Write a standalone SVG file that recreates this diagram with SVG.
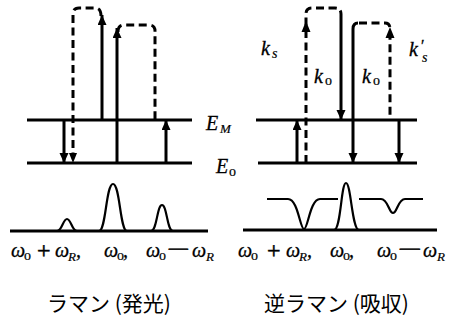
<svg xmlns="http://www.w3.org/2000/svg" width="454" height="323" viewBox="0 0 454 323">
<defs>
<marker id="ah" markerUnits="userSpaceOnUse" markerWidth="10" markerHeight="12" refX="10" refY="4.5" orient="auto">
<path d="M0,0 L10,4.5 L0,9 z" fill="#000"/>
</marker>
<style>
.lv{stroke:#000;stroke-width:2.8;fill:none}
.s{stroke:#000;stroke-width:3;fill:none}
.d{stroke:#000;stroke-width:3;fill:none;stroke-dasharray:8 4.5}
.sp{stroke:#000;stroke-width:2.2;fill:none}
text{fill:#000}
.m{font-family:'Liberation Serif','DejaVu Serif',serif;font-style:italic;font-size:20px;stroke:#000;stroke-width:0.3}
.u{font-family:'Liberation Serif','DejaVu Serif',serif;font-style:normal;font-size:14px;stroke:#000;stroke-width:0.2}
.su{font-family:'Liberation Serif','DejaVu Serif',serif;font-style:italic;font-size:13px;stroke:#000;stroke-width:0.2}
.op{font-family:'Liberation Serif','DejaVu Serif',serif;font-style:normal;font-size:24px;stroke:#000;stroke-width:0.5}
.jp{font-family:'Noto Sans CJK JP','Noto Sans CJK SC',sans-serif;font-size:21px}
</style>
</defs>
<rect width="454" height="323" fill="#fff"/>

<g id="levels">
<line class="lv" x1="27" y1="120" x2="192" y2="120"/>
<line class="lv" x1="27" y1="163" x2="192" y2="163"/>
<line class="lv" x1="256" y1="120" x2="417" y2="120"/>
<line class="lv" x1="258" y1="163" x2="417" y2="163"/>
</g>

<g id="connectors">
<line class="s" x1="102" y1="120" x2="102" y2="15" marker-end="url(#ah)"/>
<path class="d" d="M101,16 Q101,8 95,8 L79,8 Q73,8 73,14 L73,154"/>
<path d="M69,153 L73,163 L77,153 z" fill="#000"/>
<line class="s" x1="117" y1="163" x2="117" y2="28" marker-end="url(#ah)"/>
<path class="d" d="M118,32 Q118,25 124,25 L149,25 Q155,25 155,31 L155,120"/>
<line class="s" x1="166" y1="163" x2="166" y2="120" marker-end="url(#ah)"/>
<line class="s" x1="64" y1="120" x2="64" y2="163" marker-end="url(#ah)"/>
<line class="s" x1="297" y1="163" x2="297" y2="120" marker-end="url(#ah)"/>
<path class="d" d="M306,163 L306,14 Q306,8 312,8 L335,8 Q341,8 341,14"/>
<path d="M301.5,32 L306,21 L310.5,32 z" fill="#000"/>
<line class="s" x1="341" y1="14" x2="341" y2="120" marker-end="url(#ah)"/>
<path class="s" d="M358,23 Q353,23 353,29 L353,163" marker-end="url(#ah)"/>
<path class="d" d="M359,23 L385,23 Q390,23 390,29 L390,120"/>
<path d="M385.5,38 L390,27 L394.5,38 z" fill="#000"/>
<line class="s" x1="399" y1="120" x2="399" y2="163" marker-end="url(#ah)"/>
</g>

<g id="level-labels">
<text class="m" x="206" y="130">E</text><text class="su" x="220" y="133">M</text>
<text class="m" x="216" y="173">E</text><text class="u" x="229" y="176">o</text>
</g>

<g id="k-labels">
<text class="m" x="261" y="55">k</text><text class="su" x="272" y="58" style="font-size:14px">s</text>
<text class="m" x="314" y="83">k</text><text class="u" x="325" y="85">o</text>
<text class="m" x="362" y="83">k</text><text class="u" x="373" y="85">o</text>
<text class="m" x="409" y="56">k</text><text class="m" x="420" y="51" style="font-size:16px">′</text><text class="su" x="422" y="62" style="font-size:14px">s</text>
</g>

<g id="spectrum-left">
<line class="lv" x1="10" y1="231" x2="208" y2="231"/>
<path class="sp" d="M57,231 C62,231 63,219 67,219 C71,219 72,231 77,231"/>
<path class="sp" d="M99,231 C106,231 106,184 113,184 C120,184 120,231 127,231"/>
<path class="sp" d="M151,231 C157,231 157,205 162,205 C167,205 167,231 173,231"/>
</g>

<g id="spectrum-right">
<line class="lv" x1="243" y1="230" x2="437" y2="230"/>
<path class="sp" d="M267,199 L288,199 C298,199 300,229 304,229 C308,229 310,199 320,199 L338,199"/>
<path class="sp" d="M334,230 C341,230 341,183 346,183 C351,183 352,230 359,230"/>
<path class="sp" d="M359,199 L381,199 C388,199 389,213 393,213 C397,213 398,199 405,199 L423,199"/>
</g>

<g id="freq-left">
<text class="m" x="11" y="257">ω</text><text class="u" x="24" y="260">o</text>
<text class="op" x="37" y="258">+</text>
<text class="m" x="55" y="257">ω</text><text class="su" x="68" y="261">R</text><text class="m" x="76" y="257">,</text>
<text class="m" x="104" y="257">ω</text><text class="u" x="117" y="260">o</text><text class="m" x="123" y="257">,</text>
<text class="m" x="146" y="257">ω</text><text class="u" x="159" y="260">o</text>
<text class="op" x="167" y="257" textLength="23" lengthAdjust="spacingAndGlyphs">−</text>
<text class="m" x="192" y="257">ω</text><text class="su" x="206" y="261">R</text>
</g>

<g id="freq-right">
<text class="m" x="238" y="257">ω</text><text class="u" x="251" y="260">o</text>
<text class="op" x="267" y="258">+</text>
<text class="m" x="286" y="257">ω</text><text class="su" x="299" y="261">R</text><text class="m" x="307" y="257">,</text>
<text class="m" x="330" y="257">ω</text><text class="u" x="343" y="260">o</text><text class="m" x="349" y="257">,</text>
<text class="m" x="377" y="257">ω</text><text class="u" x="390" y="260">o</text>
<text class="op" x="398" y="257" textLength="24" lengthAdjust="spacingAndGlyphs">−</text>
<text class="m" x="423" y="257">ω</text><text class="su" x="437" y="261">R</text>
</g>

<g id="captions">
<text class="jp" x="47" y="311">ラマン (発光)</text>
<text class="jp" x="264" y="311">逆ラマン (吸収)</text>
</g>
</svg>
